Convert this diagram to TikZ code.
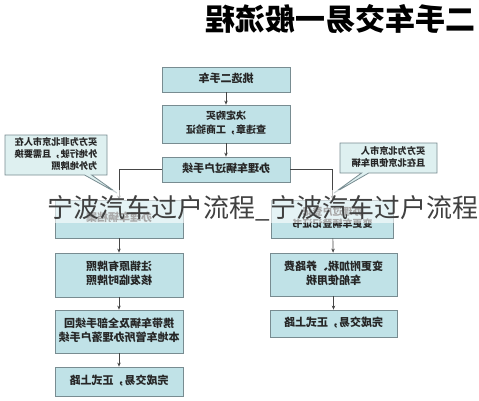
\documentclass[tikz,border=0pt]{standalone}
\usepackage{fontspec}
\usepackage{graphicx}
\setmainfont{Noto Sans CJK SC}
\newfontfamily\cjk{Noto Sans CJK SC}
\usetikzlibrary{arrows.meta,shapes.callouts}
\definecolor{boxfill}{RGB}{192,226,231}
\definecolor{boxline}{RGB}{120,140,145}
\definecolor{callfill}{RGB}{222,240,240}
\definecolor{arrowc}{RGB}{70,70,70}
\newcommand\mirtext[1]{\reflectbox{\begin{tabular}{@{}c@{}}#1\end{tabular}}}
\newcommand\mirleft[1]{\reflectbox{\begin{tabular}{@{}l@{}}#1\end{tabular}}}
\tikzset{
  flowbox/.style={draw=boxline, line width=0.8pt, fill=boxfill, inner sep=0pt,
    font=\cjk\bfseries\fontsize{11}{13.5}\selectfont, text=black!85},
  callbox/.style={rectangle callout, draw=boxline, line width=0.8pt, fill=callfill,
    inner sep=0pt, font=\cjk\bfseries\fontsize{9.2}{12}\selectfont, text=black!85},
  conn/.style={draw=arrowc, line width=0.7pt, -{Stealth[length=4pt,width=3.5pt]}},
}
\begin{document}
\begin{tikzpicture}[x=1pt,y=-1pt]
\useasboundingbox (0,0) rectangle (479,400);
\fill[white] (0,0) rectangle (479,400);
% title
\node (title) at (340,19) {\mirtext{\cjk\bfseries\fontsize{30}{32}\selectfont 二手车交易一般流程}};
% central column
\node[flowbox, minimum width=128pt, minimum height=25pt] (b1) at (226,79.5) {\mirtext{挑选二手车}};
\node[flowbox, minimum width=128pt, minimum height=38pt, font=\cjk\bfseries\fontsize{10}{13.5}\selectfont] (b2) at (226,124) {\mirtext{决定购买\\查违章，工商验证}};
\node[flowbox, minimum width=128pt, minimum height=25pt] (b3) at (226,169.5) {\mirtext{办理车辆过户手续}};
% left column
\node[flowbox, minimum width=128pt, minimum height=38pt] (l4) at (119,219) {\mirtext{办理车辆档案}};
\node[flowbox, minimum width=128pt, minimum height=44pt] (l5) at (119,275) {\mirtext{注销原有牌照\\核发临时牌照}};
\node[flowbox, minimum width=128pt, minimum height=43pt] (l6) at (119,331.5) {\mirtext{携带车辆及全部手续回\\本地车管所办理落户手续}};
\node[flowbox, minimum width=128pt, minimum height=29pt] (l7) at (119,381.5) {\mirtext{完成交易，正式上路}};
% right column
\node[flowbox, minimum width=122pt, minimum height=38pt, font=\cjk\bfseries\fontsize{10}{12}\selectfont] (r4) at (332.5,219) {\mirtext{办理过户登记\\变更车辆登记证书}};
\node[flowbox, minimum width=127pt, minimum height=43pt] (r5) at (333.5,274.5) {\mirtext{变更附加税、养路费\\车船使用税}};
\node[flowbox, minimum width=127pt, minimum height=27pt] (r6) at (333.5,323.5) {\mirtext{完成交易，正式上路}};
% callouts
\coordinate (lp) at (117,193);
\coordinate (rp) at (334,193);
\node[callbox, minimum width=102pt, minimum height=40pt, callout absolute pointer={(lp)}] (cl) at (56,155) {\mirleft{买方为非北京市人在\\外地行驶，且需要换\\为外地牌照}};
\node[callbox, minimum width=97pt, minimum height=30pt, callout absolute pointer={(rp)}] (cr) at (388.5,158) {\mirleft{买方为北京市人\\且在北京使用车辆}};
% connectors
\draw[conn] (b1) -- (b2);
\draw[conn] (b2) -- (b3);
\draw[conn] (b3.west) -| (l4.north);
\draw[conn] (b3.east) -| (r4.north);
\draw[conn] (l4) -- (l5);
\draw[conn] (l5) -- (l6);
\draw[conn] (l6) -- (l7);
\draw[conn] (r4) -- (r5);
\draw[conn] (r5) -- (r6);
% watermark
\fill[white, opacity=0.6] (48,190) rectangle (479,223);
\node[text=black!75, inner sep=0pt] (wm) at (263,208) {\cjk\fontsize{26}{28}\selectfont 宁波汽车过户流程\_宁波汽车过户流程};
\end{tikzpicture}
\end{document}
